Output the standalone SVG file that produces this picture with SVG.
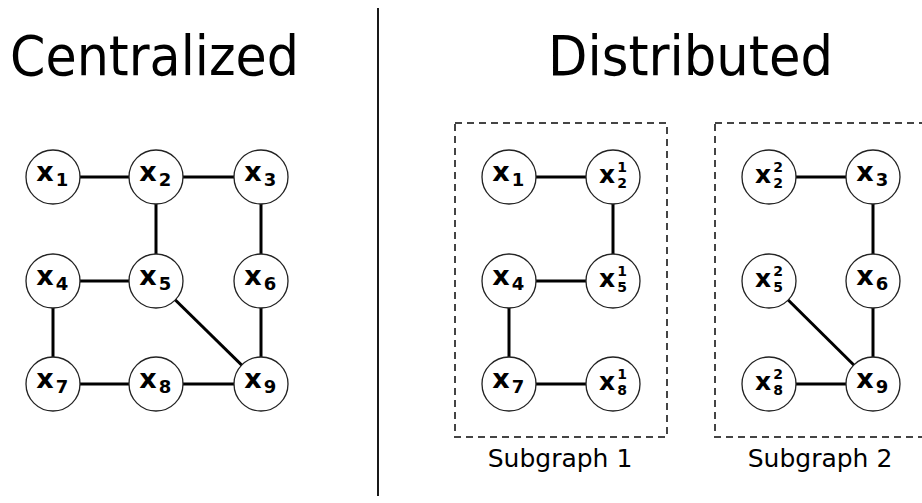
<svg xmlns="http://www.w3.org/2000/svg" width="922" height="503" viewBox="0 0 922 503">
  <style>
    .title { font-family: "DejaVu Sans", Verdana, sans-serif; font-size: 56px; fill: #000; }
    .cap { font-family: "DejaVu Sans", Verdana, sans-serif; font-size: 25px; fill: #000; text-anchor: middle; }
    .node circle { fill: #fff; stroke: #222; stroke-width: 1.3; }
    .vx { font-family: "DejaVu Sans", Verdana, sans-serif; font-weight: bold; font-size: 27px; fill: #000; text-anchor: middle; }
    .vs { font-family: "DejaVu Sans", Verdana, sans-serif; font-weight: bold; font-size: 25px; fill: #000; text-anchor: middle; }
    .ix { font-family: "DejaVu Sans", Verdana, sans-serif; font-weight: bold; font-size: 18px; fill: #000; text-anchor: middle; }
    .sx { font-family: "DejaVu Sans", Verdana, sans-serif; font-weight: bold; font-size: 14px; fill: #000; text-anchor: middle; }
    .edges line { stroke: #000; stroke-width: 3; }
    .box { fill: none; stroke: #444; stroke-width: 2; stroke-dasharray: 7 5; }
  </style>

  <!-- headings and divider -->
  <text class="title" x="10" y="75" textLength="289" lengthAdjust="spacingAndGlyphs">Centralized</text>
  <text class="title" x="548" y="75" textLength="285" lengthAdjust="spacingAndGlyphs">Distributed</text>
  <line x1="378" y1="8" x2="378" y2="496" stroke="#000" stroke-width="1.8"/>

  <!-- subgraph frames -->
  <rect class="box" x="455" y="123" width="212" height="314"/>
  <rect class="box" x="715" y="123" width="230" height="314"/>
  <text class="cap" x="560" y="467">Subgraph 1</text>
  <text class="cap" x="820" y="467">Subgraph 2</text>

  <!-- connectors -->
  <g class="edges">
    <!-- centralized graph -->
    <line x1="53" y1="177" x2="156" y2="177"/>
    <line x1="156" y1="177" x2="261" y2="177"/>
    <line x1="156" y1="177" x2="156" y2="281"/>
    <line x1="261" y1="177" x2="261" y2="281"/>
    <line x1="53" y1="281" x2="156" y2="281"/>
    <line x1="53" y1="281" x2="53" y2="384"/>
    <line x1="156" y1="281" x2="261" y2="384"/>
    <line x1="261" y1="281" x2="261" y2="384"/>
    <line x1="53" y1="384" x2="156" y2="384"/>
    <line x1="156" y1="384" x2="261" y2="384"/>
    <!-- subgraph 1 -->
    <line x1="509" y1="177" x2="613" y2="177"/>
    <line x1="613" y1="177" x2="613" y2="281"/>
    <line x1="509" y1="281" x2="613" y2="281"/>
    <line x1="509" y1="281" x2="509" y2="384"/>
    <line x1="509" y1="384" x2="613" y2="384"/>
    <!-- subgraph 2 -->
    <line x1="769" y1="177" x2="873" y2="177"/>
    <line x1="873" y1="177" x2="873" y2="281"/>
    <line x1="873" y1="281" x2="873" y2="384"/>
    <line x1="769" y1="281" x2="873" y2="384"/>
    <line x1="769" y1="384" x2="873" y2="384"/>
  </g>

  <!-- centralized nodes -->
  <g id="c1" class="node" transform="translate(53,177)"><circle r="27"/><text class="vx" x="-8" y="4">x</text><text class="ix" x="9" y="9">1</text></g>
  <g id="c2" class="node" transform="translate(156,177)"><circle r="27"/><text class="vx" x="-8" y="4">x</text><text class="ix" x="9" y="9">2</text></g>
  <g id="c3" class="node" transform="translate(261,177)"><circle r="27"/><text class="vx" x="-8" y="4">x</text><text class="ix" x="9" y="9">3</text></g>
  <g id="c4" class="node" transform="translate(53,281)"><circle r="27"/><text class="vx" x="-8" y="4">x</text><text class="ix" x="9" y="9">4</text></g>
  <g id="c5" class="node" transform="translate(156,281)"><circle r="27"/><text class="vx" x="-8" y="4">x</text><text class="ix" x="9" y="9">5</text></g>
  <g id="c6" class="node" transform="translate(261,281)"><circle r="27"/><text class="vx" x="-8" y="4">x</text><text class="ix" x="9" y="9">6</text></g>
  <g id="c7" class="node" transform="translate(53,384)"><circle r="27"/><text class="vx" x="-8" y="4">x</text><text class="ix" x="9" y="9">7</text></g>
  <g id="c8" class="node" transform="translate(156,384)"><circle r="27"/><text class="vx" x="-8" y="4">x</text><text class="ix" x="9" y="9">8</text></g>
  <g id="c9" class="node" transform="translate(261,384)"><circle r="27"/><text class="vx" x="-8" y="4">x</text><text class="ix" x="9" y="9">9</text></g>

  <!-- subgraph 1 nodes -->
  <g id="s1-x1" class="node" transform="translate(509,177)"><circle r="27"/><text class="vx" x="-8" y="4">x</text><text class="ix" x="9" y="9">1</text></g>
  <g id="s1-x2" class="node" transform="translate(613,177)"><circle r="27"/><text class="vs" x="-6" y="6">x</text><text class="sx" x="9" y="-5">1</text><text class="sx" x="9" y="11">2</text></g>
  <g id="s1-x4" class="node" transform="translate(509,281)"><circle r="27"/><text class="vx" x="-8" y="4">x</text><text class="ix" x="9" y="9">4</text></g>
  <g id="s1-x5" class="node" transform="translate(613,281)"><circle r="27"/><text class="vs" x="-6" y="6">x</text><text class="sx" x="9" y="-5">1</text><text class="sx" x="9" y="11">5</text></g>
  <g id="s1-x7" class="node" transform="translate(509,384)"><circle r="27"/><text class="vx" x="-8" y="4">x</text><text class="ix" x="9" y="9">7</text></g>
  <g id="s1-x8" class="node" transform="translate(613,384)"><circle r="27"/><text class="vs" x="-6" y="6">x</text><text class="sx" x="9" y="-5">1</text><text class="sx" x="9" y="11">8</text></g>

  <!-- subgraph 2 nodes -->
  <g id="s2-x2" class="node" transform="translate(769,177)"><circle r="27"/><text class="vs" x="-6" y="6">x</text><text class="sx" x="9" y="-5">2</text><text class="sx" x="9" y="11">2</text></g>
  <g id="s2-x3" class="node" transform="translate(873,177)"><circle r="27"/><text class="vx" x="-8" y="4">x</text><text class="ix" x="9" y="9">3</text></g>
  <g id="s2-x5" class="node" transform="translate(769,281)"><circle r="27"/><text class="vs" x="-6" y="6">x</text><text class="sx" x="9" y="-5">2</text><text class="sx" x="9" y="11">5</text></g>
  <g id="s2-x6" class="node" transform="translate(873,281)"><circle r="27"/><text class="vx" x="-8" y="4">x</text><text class="ix" x="9" y="9">6</text></g>
  <g id="s2-x8" class="node" transform="translate(769,384)"><circle r="27"/><text class="vs" x="-6" y="6">x</text><text class="sx" x="9" y="-5">2</text><text class="sx" x="9" y="11">8</text></g>
  <g id="s2-x9" class="node" transform="translate(873,384)"><circle r="27"/><text class="vx" x="-8" y="4">x</text><text class="ix" x="9" y="9">9</text></g>
</svg>
